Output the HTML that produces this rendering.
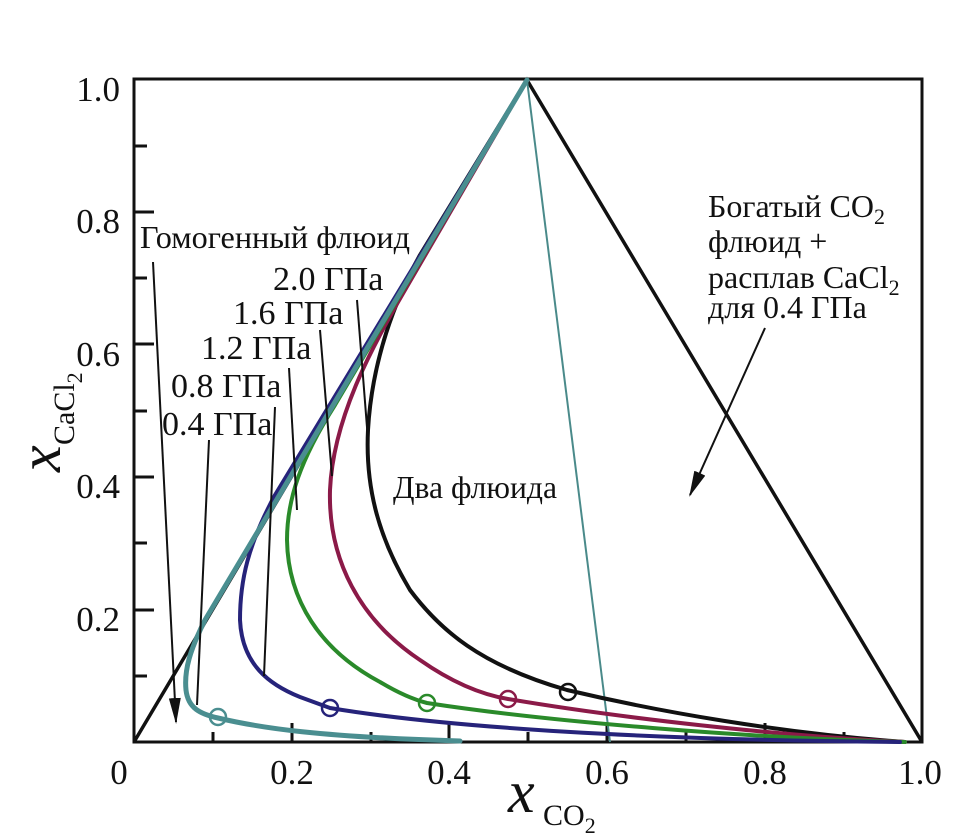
<!DOCTYPE html>
<html><head><meta charset="utf-8"><style>
html,body{margin:0;padding:0;background:#fff;}
svg{display:block;}
text{font-family:"Liberation Serif",serif;fill:#111;}
</style></head><body>
<svg width="976" height="840" viewBox="0 0 976 840">
<defs>
<marker id="ar" markerWidth="26" markerHeight="12" refX="24" refY="6" orient="auto" markerUnits="userSpaceOnUse" viewBox="0 0 26 12">
<path d="M0,0 L26,6 L0,12 Z" fill="#111"/>
</marker>
</defs>
<rect x="134" y="79" width="788" height="663" fill="none" stroke="#111" stroke-width="3"/>
<g stroke="#111" stroke-width="3">
<line x1="134" y1="146" x2="147" y2="146"/>
<line x1="134" y1="212" x2="154" y2="212"/>
<line x1="134" y1="278" x2="147" y2="278"/>
<line x1="134" y1="344" x2="154" y2="344"/>
<line x1="134" y1="411" x2="147" y2="411"/>
<line x1="134" y1="477" x2="154" y2="477"/>
<line x1="134" y1="543" x2="147" y2="543"/>
<line x1="134" y1="610" x2="154" y2="610"/>
<line x1="134" y1="676" x2="147" y2="676"/>
<line x1="213" y1="742" x2="213" y2="732"/>
<line x1="292" y1="742" x2="292" y2="723"/>
<line x1="371" y1="742" x2="371" y2="732"/>
<line x1="449" y1="742" x2="449" y2="723"/>
<line x1="528" y1="742" x2="528" y2="732"/>
<line x1="607" y1="742" x2="607" y2="723"/>
<line x1="686" y1="742" x2="686" y2="732"/>
<line x1="765" y1="742" x2="765" y2="723"/>
<line x1="844" y1="742" x2="844" y2="732"/>
</g>
<g font-size="35" text-anchor="end">
<text x="120" y="101">1.0</text>
<text x="120" y="233">0.8</text>
<text x="120" y="366">0.6</text>
<text x="120" y="498">0.4</text>
<text x="120" y="631">0.2</text>
</g>
<g font-size="35" text-anchor="middle">
<text x="119" y="784">0</text>
<text x="292" y="784">0.2</text>
<text x="449" y="784">0.4</text>
<text x="607" y="784">0.6</text>
<text x="765" y="784">0.8</text>
<text x="920" y="784">1.0</text>
</g>
<text x="508" y="812" font-size="60" font-style="italic">x</text>
<text x="543" y="825" font-size="30">CO<tspan font-size="22" dy="8">2</tspan></text>
<g transform="translate(60,472) rotate(-90)">
<text x="0" y="0" font-size="60" font-style="italic">x</text>
<text x="27" y="14" font-size="30">CaCl<tspan font-size="22" dy="8">2</tspan></text>
</g>
<polyline points="134,742 527,80 922,742" fill="none" stroke="#111" stroke-width="3.5"/>
<line x1="527" y1="80" x2="610" y2="742" stroke="#4a8a8a" stroke-width="2"/>
<g fill="none" stroke-width="4" stroke-linejoin="round" stroke-linecap="round">
<path stroke="#111" d="M527,80 L420,255 C395,300 372,360 368,430 C365,490 380,540 410,590 C440,630 480,665 567,690 C660,712 780,733 905,742"/>
<path stroke="#8b1a48" d="M527,80 L405,290 C370,350 333,420 330,490 C328,560 360,620 420,660 C460,688 490,696 508,699 C620,718 780,736 905,742"/>
<path stroke="#2a8a2a" d="M527,80 L335,405 C300,460 287,500 287,540 C288,600 320,650 380,682 C400,694 415,700 427,703 C550,722 750,738 905,742"/>
<path stroke="#26237a" d="M527,80 L275,495 C248,545 240,580 240,620 C242,665 270,685 300,697 L330,708 C450,728 650,740 900,742"/>
<path stroke="#4a8e90" stroke-width="5" d="M527,80 L205,620 C190,650 184,670 186,690 C188,708 200,714 218,718 C260,728 320,737 460,741"/>
</g>
<g fill="none" stroke-width="2.5">
<circle cx="568" cy="692" r="8" stroke="#111"/>
<circle cx="508" cy="699" r="8" stroke="#8b1a48"/>
<circle cx="427" cy="703" r="8" stroke="#2a8a2a"/>
<circle cx="330" cy="708" r="8" stroke="#26237a"/>
<circle cx="218" cy="717" r="8" stroke="#4a8e90"/>
</g>
<g stroke="#111" stroke-width="2">
<line x1="153" y1="262" x2="176" y2="722" marker-end="url(#ar)"/>
<line x1="209" y1="440" x2="197" y2="705"/>
<line x1="275" y1="407" x2="264" y2="676"/>
<line x1="289" y1="368" x2="297" y2="510"/>
<line x1="320" y1="330" x2="332" y2="476"/>
<line x1="357" y1="300" x2="368" y2="440"/>
<line x1="765" y1="328" x2="690" y2="495" marker-end="url(#ar)"/>
</g>
<g font-size="32">
<text x="140" y="248" textLength="270" lengthAdjust="spacingAndGlyphs">Гомогенный флюид</text>
</g>
<g font-size="34">
<text x="273" y="290">2.0 ГПа</text>
<text x="233" y="324">1.6 ГПа</text>
<text x="201" y="359">1.2 ГПа</text>
<text x="171" y="397">0.8 ГПа</text>
<text x="162" y="435">0.4 ГПа</text>
</g>
<g font-size="32">
<text x="393" y="498" textLength="164" lengthAdjust="spacingAndGlyphs">Два флюида</text>
<text x="708" y="217">Богатый CO<tspan font-size="22" dy="7">2</tspan></text>
<text x="708" y="252">флюид +</text>
<text x="708" y="288">расплав CaCl<tspan font-size="22" dy="7">2</tspan></text>
<text x="708" y="318">для 0.4 ГПа</text>
</g>
</svg>
</body></html>
